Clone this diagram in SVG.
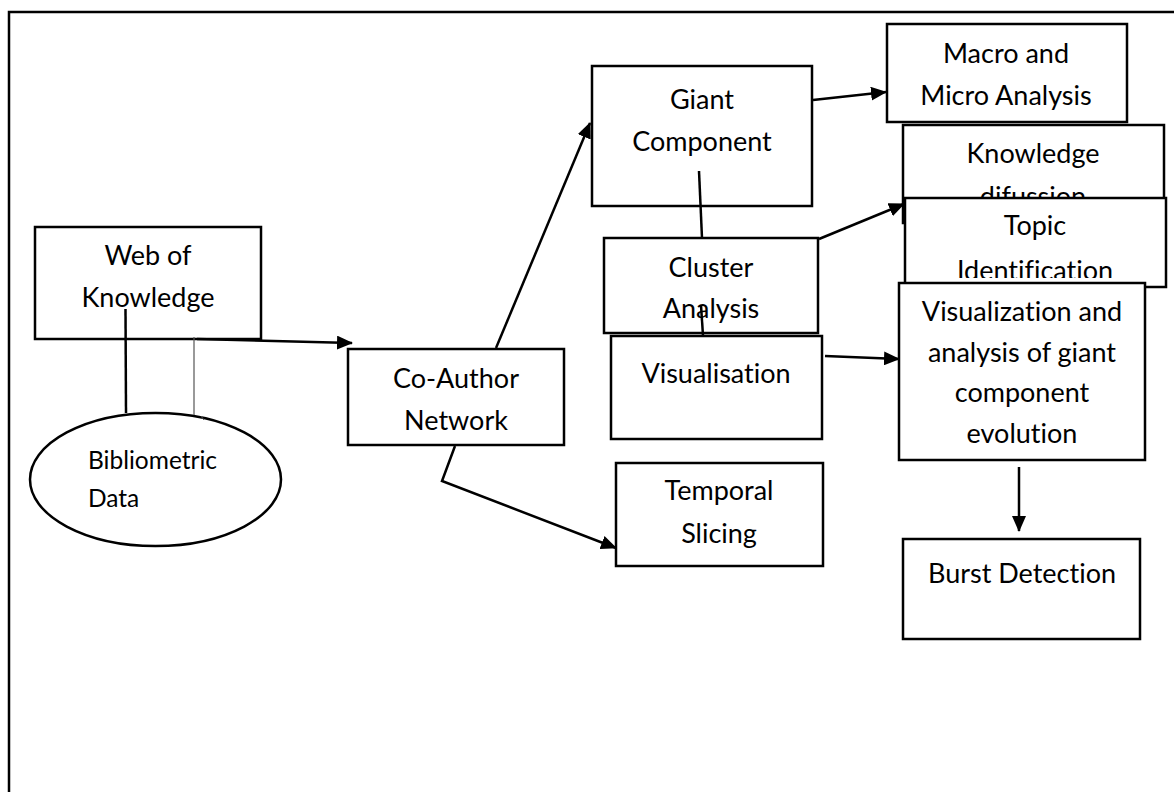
<svg xmlns="http://www.w3.org/2000/svg" width="1174" height="792" viewBox="0 0 1174 792">
<style>
.box{fill:#fff;stroke:#000;stroke-width:2.5}
.t{font-family:Lato,"Liberation Sans",sans-serif;font-size:27px;fill:#000;text-anchor:middle;font-variant-ligatures:none;font-feature-settings:"liga" 0}
.ts{font-family:Lato,"Liberation Sans",sans-serif;font-size:24.5px;fill:#000;font-variant-ligatures:none;font-feature-settings:"liga" 0}
.c{fill:none;stroke:#000;stroke-width:2.5}
</style>
<defs>
<marker id="ah" markerUnits="userSpaceOnUse" markerWidth="16" markerHeight="14" refX="15" refY="7" orient="auto">
<path d="M0,0 L16,7 L0,14 z" fill="#000"/>
</marker>
<clipPath id="clipTopic"><rect x="900" y="200" width="270" height="78"/></clipPath>
</defs>
<rect width="1174" height="792" fill="#fff"/>
<path d="M9,792 V12 H1174" fill="none" stroke="#000" stroke-width="2.5"/>

<g id="web-of-knowledge">
<rect class="box" x="35" y="227" width="226" height="112"/>
<text class="t" x="148" y="265">Web of</text>
<text class="t" x="148" y="307">Knowledge</text>
</g>
<g id="bibliometric-data">
<ellipse cx="155.5" cy="479.5" rx="125.5" ry="66.5" fill="#fff" stroke="#000" stroke-width="2.5"/>
<text class="ts" x="88" y="469">Bibliometric</text>
<text class="ts" x="88" y="507">Data</text>
</g>
<g id="co-author-network">
<rect class="box" x="348" y="349" width="216" height="96"/>
<text class="t" x="456" y="388">Co-Author</text>
<text class="t" x="456" y="430">Network</text>
</g>
<g id="giant-component">
<rect class="box" x="592" y="66" width="220" height="140"/>
<text class="t" x="702" y="109">Giant</text>
<text class="t" x="702" y="151">Component</text>
</g>
<g id="macro-micro">
<rect class="box" x="887" y="24" width="240" height="98"/>
<text class="t" x="1006" y="63">Macro and</text>
<text class="t" x="1006" y="105">Micro Analysis</text>
</g>
<g id="knowledge-difussion">
<rect class="box" x="903" y="125" width="261" height="98"/>
<text class="t" x="1033" y="163">Knowledge</text>
<text class="t" x="1033" y="206">difussion</text>
</g>
<g id="topic-identification">
<rect class="box" x="905" y="198" width="261" height="89"/>
<text class="t" x="1035" y="235">Topic</text>
<text class="t" x="1035" y="280" clip-path="url(#clipTopic)">Identification</text>
</g>
<g id="cluster-analysis">
<rect class="box" x="604" y="238" width="214" height="95"/>
<text class="t" x="711" y="277">Cluster</text>
<text class="t" x="711" y="318">Analysis</text>
</g>
<g id="visualisation">
<rect class="box" x="611" y="336" width="211" height="103"/>
<text class="t" x="716" y="383">Visualisation</text>
</g>
<g id="visualization-analysis">
<rect class="box" x="899" y="283" width="246" height="177"/>
<text class="t" x="1022" y="321">Visualization and</text>
<text class="t" x="1022" y="362">analysis of giant</text>
<text class="t" x="1022" y="402">component</text>
<text class="t" x="1022" y="443">evolution</text>
</g>
<g id="temporal-slicing">
<rect class="box" x="616" y="463" width="207" height="103"/>
<text class="t" x="719" y="500">Temporal</text>
<text class="t" x="719" y="543">Slicing</text>
</g>
<g id="burst-detection">
<rect class="box" x="903" y="539" width="237" height="100"/>
<text class="t" x="1022" y="583">Burst Detection</text>
</g>

<g id="connectors">
<line class="c" x1="125.5" y1="309" x2="126" y2="413"/>
<line x1="194" y1="337" x2="194" y2="415" stroke="#555" stroke-width="1.2"/>
<line x1="201" y1="416" x2="204" y2="420" stroke="#555" stroke-width="1"/>
<line class="c" x1="197" y1="339" x2="352" y2="343" marker-end="url(#ah)"/>
<line class="c" x1="496" y1="348" x2="590" y2="123" marker-end="url(#ah)"/>
<polyline class="c" points="455,446 442,481 616,548" marker-end="url(#ah)"/>
<line class="c" x1="813" y1="100" x2="886" y2="92" marker-end="url(#ah)"/>
<line class="c" x1="699" y1="171" x2="702" y2="238"/>
<line class="c" x1="819" y1="239" x2="904" y2="204" marker-end="url(#ah)"/>
<line class="c" x1="701" y1="305" x2="703" y2="336"/>
<line class="c" x1="825" y1="356" x2="899" y2="359" marker-end="url(#ah)"/>
<line class="c" x1="1019" y1="467" x2="1019" y2="531" marker-end="url(#ah)"/>
</g>
</svg>
